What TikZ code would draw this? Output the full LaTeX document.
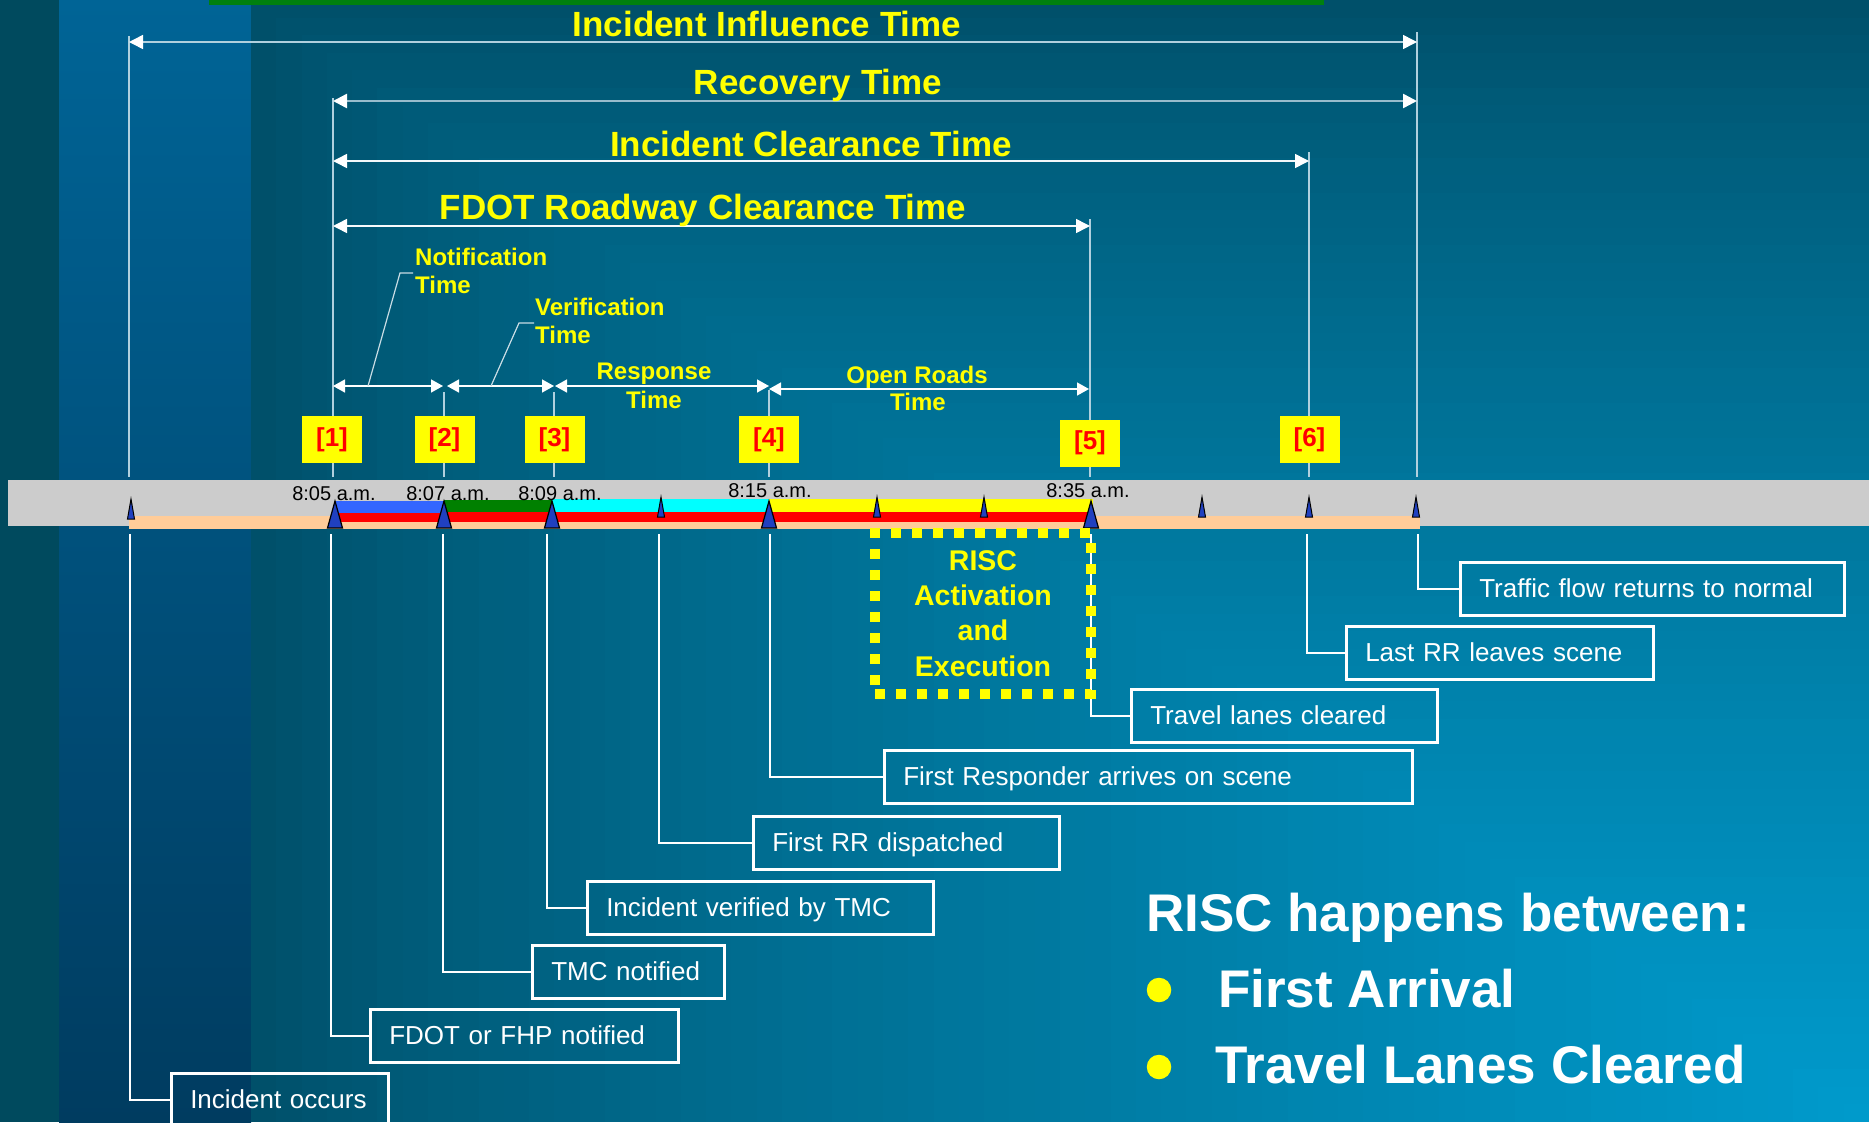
\documentclass[tikz,border=0pt]{standalone}
\usepackage{fontspec}
\setmainfont{Liberation Sans}
\usetikzlibrary{arrows.meta}
\definecolor{stripdark}{HTML}{004A5E}
\definecolor{stripblueT}{HTML}{006496}
\definecolor{stripblueB}{HTML}{003C60}
\definecolor{bgdark}{HTML}{00506A}
\definecolor{bgbright}{HTML}{009BCD}
\definecolor{ttlyellow}{HTML}{FFFF00}
\definecolor{barblue}{HTML}{3366FF}
\definecolor{bargreen}{HTML}{008000}
\definecolor{barcyan}{HTML}{00FFFF}
\definecolor{barred}{HTML}{FF0000}
\definecolor{barpeach}{HTML}{FFCC99}
\definecolor{bargrey}{HTML}{CCCCCC}
\definecolor{markblue}{HTML}{2040C0}
\definecolor{dimline}{HTML}{B0D0DE}
\definecolor{recline}{HTML}{98BCCC}
\definecolor{leadline}{HTML}{C8DCE4}
\definecolor{topgreen}{HTML}{00800F}
\begin{document}
\begin{tikzpicture}[x=1pt,y=-1pt,
  ttl/.style={text=ttlyellow,font=\fontsize{35}{42}\selectfont\bfseries,inner sep=0pt,anchor=base},
  sublbl/.style={text=ttlyellow,font=\fontsize{24}{28}\selectfont\bfseries,inner sep=0pt},
  dimtop/.style={line width=1.5pt,draw=dimline,>={Triangle[length=14pt,width=14pt,color=white]},<->},
  dimsmall/.style={line width=1.5pt,draw=white,>={Triangle[length=12pt,width=13pt]},<->},
  vline/.style={line width=1.2pt,draw=dimline},
  lead/.style={line width=1.2pt,draw=leadline},
  numbox/.style={fill=ttlyellow,minimum width=60pt,minimum height=47pt,inner sep=0pt,text=barred,font=\fontsize{26}{30}\selectfont\bfseries},
  tlabel/.style={font=\fontsize{20}{24}\selectfont,text=black,inner sep=0pt,anchor=base},
  evbox/.style={draw=white,line width=2.5pt,text=white,font=\fontsize{26}{31}\selectfont,anchor=north west,inner xsep=19pt,inner ysep=0pt,align=left,minimum height=53pt,text height=19pt,text depth=1pt},
  conn/.style={draw=white,line width=2.5pt},
  riscbox/.style={draw=ttlyellow,line width=10pt,dash pattern=on 10pt off 11pt,minimum width=216pt,minimum height=161pt,inner sep=0pt,align=center,text=ttlyellow,font=\fontsize{28.5}{35.3}\selectfont\bfseries},
  bigtxt/.style={text=white,font=\fontsize{53}{60}\selectfont\bfseries,inner sep=0pt,anchor=base west},
  bulletdot/.style={circle,fill=ttlyellow,minimum size=24.5pt,inner sep=0pt},
  bigtri/.pic={\filldraw[fill=markblue,draw=black,line width=1.2pt] (-7.5,0) -- (0,-27) -- (7.5,0) -- cycle;},
  smalltri/.pic={\filldraw[fill=markblue,draw=black,line width=1pt] (-3.5,0) -- (0,-20) -- (3.5,0) -- cycle;}
]
\useasboundingbox (0,0) rectangle (1869,1122);
\clip (0,0) rectangle (1869,1122);
% ---------- background ----------
\fill[stripdark] (0,0) rectangle (59,1122);
\shade[top color=stripblueT,bottom color=stripblueB] (59,0) rectangle (251,1122);
\fill[bgdark] (251,0) rectangle (1869,1122);
\foreach \i in {1,...,63}{
  \pgfmathsetmacro{\tval}{1-\i/64}
  \pgfmathtruncatemacro{\fval}{100*(\i/64)^0.8}
  \fill[bgbright!\fval!bgdark] ({1869-1618*\tval},{1122-1122*\tval}) rectangle (1869,1122);
}
\fill[topgreen] (209,0) rectangle (1324,5);

% ---------- vertical reference lines ----------
\coordinate (va0) at (129,36);   \coordinate (vb0) at (129,477);
\coordinate (va1) at (333,98);   \coordinate (vb1) at (333,477);
\coordinate (va2) at (444,392);  \coordinate (vb2) at (444,477);
\coordinate (va3) at (554,392);  \coordinate (vb3) at (554,477);
\coordinate (va4) at (769,390);  \coordinate (vb4) at (769,477);
\coordinate (va5) at (1090,219); \coordinate (vb5) at (1090,477);
\coordinate (va6) at (1309,152); \coordinate (vb6) at (1309,477);
\coordinate (va7) at (1417,32);  \coordinate (vb7) at (1417,477);
\foreach \k in {0,...,7}{\draw[vline] (va\k) -- (vb\k);}

% ---------- top dimension arrows ----------
\coordinate (inflA) at (129,42);  \coordinate (inflB) at (1417,42);
\coordinate (recA) at (333,101);  \coordinate (recB) at (1417,101);
\coordinate (clrA) at (333,161);  \coordinate (clrB) at (1309,161);
\coordinate (fdotA) at (333,226); \coordinate (fdotB) at (1090,226);
\draw[dimtop] (inflA) -- (inflB);
\draw[dimtop,draw=recline,line width=2.5pt] (recA) -- (recB);
\draw[dimtop,draw=white!85!dimline] (clrA) -- (clrB);
\draw[dimtop,draw=white!90!dimline] (fdotA) -- (fdotB);
\node[ttl] (ttlinfl) at (767,36) {Incident Influence Time};
\node[ttl] (ttlrec) at (818,94) {Recovery Time};
\node[ttl] (ttlclr) at (811,156) {Incident Clearance Time};
\node[ttl] (ttlfdot) at (703,219) {FDOT Roadway Clearance Time};

% ---------- small interval arrows ----------
\coordinate (notA) at (333,386); \coordinate (notB) at (443,386);
\coordinate (verA) at (447,386); \coordinate (verB) at (554,386);
\coordinate (resA) at (555,386); \coordinate (resB) at (769,386);
\coordinate (opnA) at (769,389); \coordinate (opnB) at (1089,389);
\draw[dimsmall] (notA) -- (notB);
\draw[dimsmall] (verA) -- (verB);
\draw[dimsmall] (resA) -- (resB);
\draw[dimsmall] (opnA) -- (opnB);
\node[sublbl,anchor=base west] (notifa) at (415,265) {Notification};
\node[sublbl,anchor=base west] (notifb) at (415,293) {Time};
\node[sublbl,anchor=base west] (verifa) at (535,315) {Verification};
\node[sublbl,anchor=base west] (verifb) at (535,343) {Time};
\node[sublbl,anchor=base] (respa) at (654,379) {Response};
\node[sublbl,anchor=base] (respb) at (654,408) {Time};
\node[sublbl,anchor=base] (opena) at (917,383) {Open Roads};
\node[sublbl,anchor=base] (openb) at (918,410) {Time};
\coordinate (ln1a) at (413,273); \coordinate (ln1b) at (400,273); \coordinate (ln1c) at (368,386);
\coordinate (ln2a) at (534,323); \coordinate (ln2b) at (519,323); \coordinate (ln2c) at (491,386);
\draw[lead] (ln1a) -- (ln1b) -- (ln1c);
\draw[lead] (ln2a) -- (ln2b) -- (ln2c);

% ---------- numbered boxes ----------
\node[numbox] (n1) at (332,439.5) {[1]};
\node[numbox] (n2) at (444.5,439.5) {[2]};
\node[numbox] (n3) at (554.5,439.5) {[3]};
\node[numbox] (n4) at (769,439.5) {[4]};
\node[numbox] (n5) at (1090,443) {[5]};
\node[numbox] (n6) at (1309.5,439.5) {[6]};

% ---------- timeline bar ----------
\fill[bargrey] (8,480) rectangle (1869,526);
\fill[barpeach] (129,516) rectangle (1420,529);
\fill[barred] (336,512) rectangle (1093,522);
\fill[barblue] (336,501) rectangle (444,513);
\fill[bargreen] (444,500) rectangle (552,512);
\fill[barcyan] (552,499) rectangle (769,512);
\fill[ttlyellow] (769,499) rectangle (1093,512);
\pic at (131,519) {smalltri};
\foreach \xx in {661,877,984,1202,1309,1416}{\pic at (\xx,517) {smalltri};}
\foreach \xx in {335,444,552,769,1091}{\pic at (\xx,528) {bigtri};}
\node[tlabel] (t1) at (334,500) {8:05 a.m.};
\node[tlabel] (t2) at (448,500) {8:07 a.m.};
\node[tlabel] (t3) at (560,500) {8:09 a.m.};
\node[tlabel] (t4) at (770,497) {8:15 a.m.};
\node[tlabel] (t5) at (1088,497) {8:35 a.m.};

% ---------- event boxes ----------
\node[evbox,text width=179pt] (ev1) at (170,1072) {Incident occurs};
\node[evbox,text width=270pt] (ev2) at (369,1008) {FDOT or FHP notified};
\node[evbox,text width=154pt] (ev3) at (531,944) {TMC notified};
\node[evbox,text width=308pt] (ev4) at (586,880) {Incident verified by TMC};
\node[evbox,text width=268pt] (ev5) at (752,815) {First RR dispatched};
\node[evbox,text width=490pt] (ev6) at (883,749) {First Responder arrives on scene};
\node[evbox,text width=268pt] (ev7) at (1130,688) {Travel lanes cleared};
\node[evbox,text width=269pt] (ev8) at (1345,625) {Last RR leaves scene};
\node[evbox,text width=346pt] (ev9) at (1459,561) {Traffic flow returns to normal};
\coordinate (c1) at (130,534);
\coordinate (c2) at (331,534);
\coordinate (c3) at (443,534);
\coordinate (c4) at (547,534);
\coordinate (c5) at (659,534);
\coordinate (c6) at (770,534);
\coordinate (c7) at (1091,534);
\coordinate (c8) at (1307,534);
\coordinate (c9) at (1418,534);
\foreach \k in {1,...,9}{\draw[conn] (c\k) |- (ev\k.west);}

% ---------- RISC box ----------
\node[riscbox] (risc) at (983,613.5) {RISC\\Activation\\and\\Execution};

% ---------- summary text ----------
\node[bigtxt] (sum0) at (1146,931) {RISC happens between:};
\node[bulletdot] (b1) at (1159,990) {};
\node[bigtxt] (sum1) at (1218,1007) {First Arrival};
\node[bulletdot] (b2) at (1159,1067) {};
\node[bigtxt] (sum2) at (1215,1083) {Travel Lanes Cleared};
\end{tikzpicture}
\end{document}
